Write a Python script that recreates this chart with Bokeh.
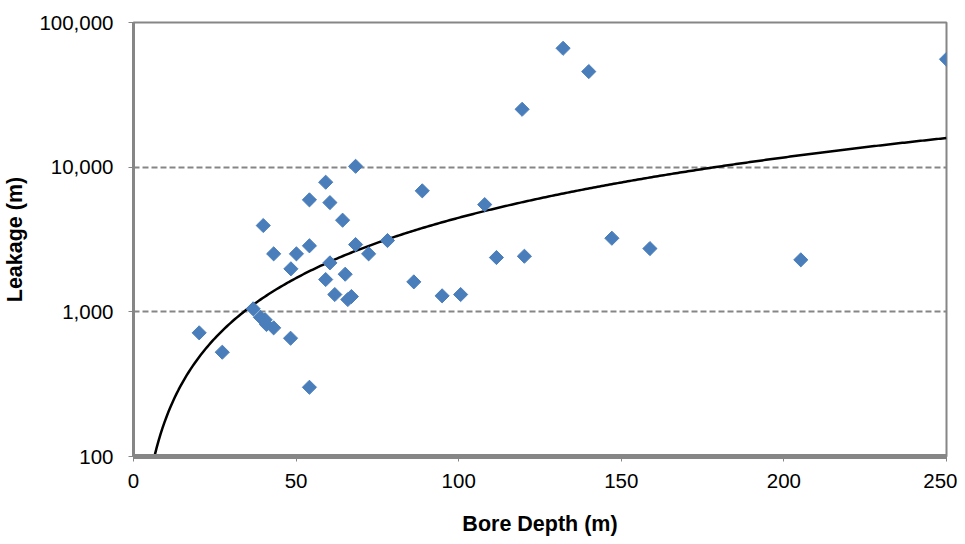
import numpy as np
from bokeh.plotting import figure
from bokeh.models import FixedTicker, NumeralTickFormatter, Range1d
from bokeh.embed import file_html
from bokeh.resources import INLINE

# Bore depth (m) and leakage (m)
depth = [20.2, 27.3, 36.8, 39.0, 40.5, 40.9, 43.1, 48.3, 39.9, 43.1, 48.4, 50.1,
         54.1, 54.1, 54.1, 59.1, 60.4, 64.3, 68.3, 59.1, 60.4, 61.9, 65.1, 65.9,
         67.0, 68.3, 72.3, 78.1, 86.2, 88.8, 94.9, 100.6, 108.0, 111.6, 119.5,
         120.2, 132.1, 140.0, 147.1, 158.8, 205.2, 250.0]
leakage = [716, 526, 1049, 918, 880, 817, 775, 657, 3950, 2517, 1983, 2517,
           5943, 2860, 301, 7870, 5690, 4300, 10140, 1672, 2180, 1317, 1820, 1216,
           1275, 2917, 2517, 3110, 1611, 6860, 1290, 1317, 5510, 2373, 25120,
           2423, 66340, 45800, 3227, 2737, 2288, 55700]

x_ticks = [0, 50, 100, 150, 200, 250]
y_ticks = [100, 1000, 10000, 100000]

# power-law trendline fitted to the data (least squares on logs)
b, ln_a = np.polyfit(np.log(depth), np.log(leakage), 1)
trend_x = np.linspace(4, 250, 400)
trend_y = np.exp(ln_a) * trend_x ** b
mask = trend_y >= 100
trend_x = trend_x[mask]
trend_y = trend_y[mask]

GREY = "#868686"
FONT = "Liberation Sans"

p = figure(width=957, height=544, y_axis_type="log",
           x_range=Range1d(0, 250), y_range=Range1d(100, 100000),
           output_backend="svg", toolbar_location=None,
           min_border_left=133, min_border_right=11, min_border_top=22, min_border_bottom=88)

p.line(trend_x, trend_y, line_color="black", line_width=2.5)
p.scatter(depth, leakage, marker="square", angle=np.pi / 4, size=10,
          fill_color="#4A7EBB", line_color="#4A7EBB")

p.outline_line_color = GREY
p.outline_line_width = 2

p.xgrid.grid_line_color = None
p.ygrid.grid_line_color = GREY
p.ygrid.grid_line_width = 2
p.ygrid.grid_line_dash = "6 3"

p.xaxis.ticker = FixedTicker(ticks=x_ticks)
p.yaxis.ticker = FixedTicker(ticks=y_ticks)
p.yaxis.formatter = NumeralTickFormatter(format="0,0")

for ax in (p.xaxis, p.yaxis):
    ax.axis_line_color = GREY
    ax.major_tick_line_color = GREY
    ax.major_tick_line_width = 1
    ax.major_tick_out = 5
    ax.major_tick_in = 0
    ax.minor_tick_line_color = None
    ax.major_label_text_font = FONT
    ax.major_label_text_font_size = "20.5px"
    ax.major_label_text_color = "black"
    ax.axis_label_text_font = FONT
    ax.axis_label_text_font_size = "21.5px"
    ax.axis_label_text_font_style = "bold"
    ax.axis_label_text_color = "black"

p.xaxis.axis_line_width = 5
p.yaxis.axis_line_width = 3
p.xaxis.axis_label = "Bore Depth (m)"
p.yaxis.axis_label = "Leakage (m)"
p.xaxis.major_label_standoff = 12
p.yaxis.major_label_standoff = 15
p.xaxis.axis_label_standoff = 21
p.yaxis.axis_label_standoff = 9

open("out.html", "w").write(file_html(p, INLINE))
